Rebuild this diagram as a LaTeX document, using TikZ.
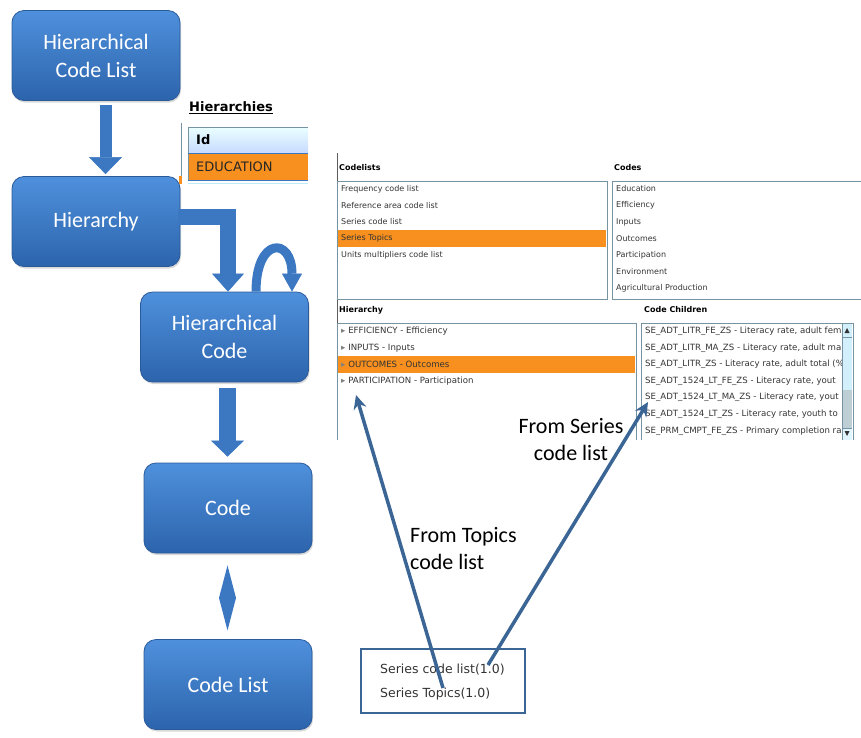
\documentclass[tikz,border=0pt]{standalone}
\usepackage{fontspec}
\setmainfont{Carlito}
\newfontfamily\uifont{DejaVu Sans}
\usepackage{tikz}
\usetikzlibrary{calc,positioning,arrows.meta,shadows}

\definecolor{boxtop}{HTML}{4F90DC}
\definecolor{boxbot}{HTML}{2C64AC}
\definecolor{boxedge}{HTML}{2A5A9A}
\definecolor{arrowblue}{HTML}{3C78C2}
\definecolor{linkblue}{HTML}{3A6595}
\definecolor{selorange}{HTML}{F7901E}
\definecolor{panelline}{HTML}{7593A3}
\definecolor{uigrey}{HTML}{333333}

\tikzset{
	umlbox/.style={rounded corners=12pt, draw=boxedge, line width=0.8pt, top color=boxtop, bottom color=boxbot, minimum width=168pt, minimum height=90pt, inner sep=0pt, text=white, align=center, font=\fontsize{22}{28}\selectfont, drop shadow={opacity=0.3, shadow xshift=1pt, shadow yshift=-2pt}},
	blockarrow/.style={draw=arrowblue, line width=#1, line join=miter},
	uirow/.style={anchor=west, inner sep=0pt, text=uigrey, font=\uifont\fontsize{8}{10}\selectfont},
	caprow/.style={uirow, font=\uifont\fontsize{8.6}{10}\selectfont},
	uilabel/.style={anchor=west, inner sep=0pt, text=black, font=\uifont\bfseries\fontsize{8}{10}\selectfont},
	uipanel/.style={draw=panelline, line width=0.8pt},
	pointer/.style={draw=linkblue, line width=3.5pt, -{Stealth[length=14pt,width=13pt]}},
	note/.style={inner sep=0pt, font=\fontsize{22}{27}\selectfont}
}

\begin{document}
\begin{tikzpicture}[x=1pt,y=-1pt]
	\useasboundingbox (0,0) rectangle (861,737);
	% model boxes
	\node[umlbox] (hcl) at (96,55.5) {Hierarchical\\Code List};
	\node[umlbox] (hier) at (96,221.5) {Hierarchy};
	\node[umlbox] (hcode) at (224.5,337) {Hierarchical\\Code};
	\node[umlbox] (code) at (228,508) {Code};
	\node[umlbox] (clist) at (228,684.5) {Code List};
	% block arrows
	\draw[blockarrow=12pt, -{Triangle[width=33pt,length=17pt,line width=0.5pt]}] ($(hcl.south)+(9.5,4)$) -- ($(hier.north)+(9.5,-2)$);
	\draw[blockarrow=16pt, -{Triangle[width=32pt,length=18pt,line width=0.5pt]}] ($(hier.east)+(-2,-5)$) -| ($(hcode.north)+(3.5,0)$);
	\draw[blockarrow=9pt, -{Triangle[width=20pt,length=18pt,line width=0.5pt]}] ($(hcode.north)+(31.5,0)$) .. controls +(0,-55) and +(0,-55) .. ($(hcode.north)+(67.5,0)$);
	\draw[blockarrow=17pt, -{Triangle[width=33pt,length=16pt,line width=0.5pt]}] ($(hcode.south)+(3,6)$) -- ($(code.north)+(-0.5,-6)$);
	\fill[arrowblue] ($(code.south)+(-0.5,12)$) -- ++(8.5,32.5) -- ++(-8.5,32.5) -- ++(-8.5,-32.5) -- cycle;
	% hierarchies table
	\node[anchor=west, inner sep=0pt, font=\uifont\bfseries\fontsize{13}{15}\selectfont] (htitle) at (189,108) {\underline{Hierarchies}};
	\draw[panelline, line width=0.8pt] (181,123) -- (181,180);
	\fill[selorange] (179,176) rectangle (182,184);
	\shade[top color=cyan!8, bottom color=cyan!35!blue!22] (188,127) rectangle (308,153);
	\fill[selorange] (188,153) rectangle (308,180);
	\draw[panelline, line width=0.8pt] (308,127) -- (188,127) -- (188,180);
	\draw[arrowblue, line width=0.8pt] (188,153) -- (308,153) (188,180) -- (308,180);
	\draw[cyan!25, line width=1pt] (188,183) -- (308,183);
	\node[anchor=west, inner sep=0pt, font=\uifont\bfseries\fontsize{13}{15}\selectfont] (idhead) at (196,140) {Id};
	\node[anchor=west, inner sep=0pt, text=black!85, font=\uifont\fontsize{13}{15}\selectfont] (edu) at (196,166.5) {EDUCATION};
	% screenshot panels
	\draw[uigrey!80, line width=0.8pt] (337,153) -- (337,440);
	\node[uilabel] (cllabel) at (339,168) {Codelists};
	\node[uilabel] (cdlabel) at (614,168) {Codes};
	\fill[selorange] (338,230) rectangle (606,247);
	\draw[uipanel] (337,181) rectangle (607,299);
	\draw[uipanel] (612,181) rectangle (870,299);
	\node[uirow] (cl1) at (341,189) {Frequency code list};
	\node[uirow] (cl2) at (341,205.5) {Reference area code list};
	\node[uirow] (cl3) at (341,222) {Series code list};
	\node[uirow] (cl4) at (341,238.5) {Series Topics};
	\node[uirow] (cl5) at (341,255) {Units multipliers code list};
	\node[uirow] (cd1) at (616,189) {Education};
	\node[uirow] (cd2) at (616,205.5) {Efficiency};
	\node[uirow] (cd3) at (616,222) {Inputs};
	\node[uirow] (cd4) at (616,238.5) {Outcomes};
	\node[uirow] (cd5) at (616,255) {Participation};
	\node[uirow] (cd6) at (616,271.5) {Environment};
	\node[uirow] (cd7) at (616,288) {Agricultural Production};
	\node[uilabel] (hrlabel) at (339,310) {Hierarchy};
	\node[uilabel] (chlabel) at (644,310) {Code Children};
	\fill[selorange] (338,356) rectangle (635,373);
	\draw[uipanel] (337,440) -- (337,323) -- (636,323) -- (636,440);
	\draw[uipanel] (641,440) -- (641,323) -- (853,323) -- (853,440);
	\node[caprow] (hr1) at (341,331) {{\color{gray}▸} EFFICIENCY - Efficiency};
	\node[caprow] (hr2) at (341,348) {{\color{gray}▸} INPUTS - Inputs};
	\node[caprow] (hr3) at (341,364.5) {{\color{gray}▸} OUTCOMES - Outcomes};
	\node[caprow] (hr4) at (341,381) {{\color{gray}▸} PARTICIPATION - Participation};
	\begin{scope}
		\clip (641,323) rectangle (842,440);
		\node[caprow] (ch1) at (645,331) {SE\_ADT\_LITR\_FE\_ZS - Literacy rate, adult fem};
		\node[caprow] (ch2) at (645,348) {SE\_ADT\_LITR\_MA\_ZS - Literacy rate, adult ma};
		\node[caprow] (ch3) at (645,364.5) {SE\_ADT\_LITR\_ZS - Literacy rate, adult total (\%};
		\node[caprow] (ch4) at (645,381) {SE\_ADT\_1524\_LT\_FE\_ZS - Literacy rate, yout};
		\node[caprow] (ch5) at (645,397.5) {SE\_ADT\_1524\_LT\_MA\_ZS - Literacy rate, yout};
		\node[caprow] (ch6) at (645,414) {SE\_ADT\_1524\_LT\_ZS - Literacy rate, youth to};
		\node[caprow] (ch7) at (645,431) {SE\_PRM\_CMPT\_FE\_ZS - Primary completion ra};
	\end{scope}
	% scrollbar
	\fill[cyan!18] (842,324) rectangle (852,390);
	\fill[cyan!40!black!30] (842,390) rectangle (852,428);
	\fill[cyan!12] (842,428) rectangle (852,440);
	\draw[panelline, line width=0.6pt] (842,324) -- (842,440) (842,337) -- (852,337) (842,428) -- (852,428);
	\fill[black!80] (844.5,333) -- (849.5,333) -- (847,328) -- cycle;
	\fill[black!80] (844.5,431) -- (849.5,431) -- (847,436) -- cycle;
	% used code lists
	\node[draw=linkblue, line width=2.5pt, minimum width=164pt, minimum height=64pt, inner sep=0pt] (usedbox) at (443,681) {};
	\node[uirow, font=\uifont\fontsize{12.5}{15}\selectfont] (scode) at (380,670) {Series code list(1.0)};
	\node[uirow, font=\uifont\fontsize{12.5}{15}\selectfont] (stopic) at (380,694) {Series Topics(1.0)};
	\node[note, align=center] (fromseries) at (571,440) {From Series\\code list};
	\node[note, align=left, anchor=west] (fromtopics) at (410,549) {From Topics\\code list};
	\coordinate (hierpt) at (356,395);
	\coordinate (childpt) at (648,402);
	\draw[pointer] ($(stopic.west)+(63,-6)$) -- (hierpt);
	\draw[pointer] ($(scode.west)+(108,-5)$) -- (childpt);
\end{tikzpicture}
\end{document}
